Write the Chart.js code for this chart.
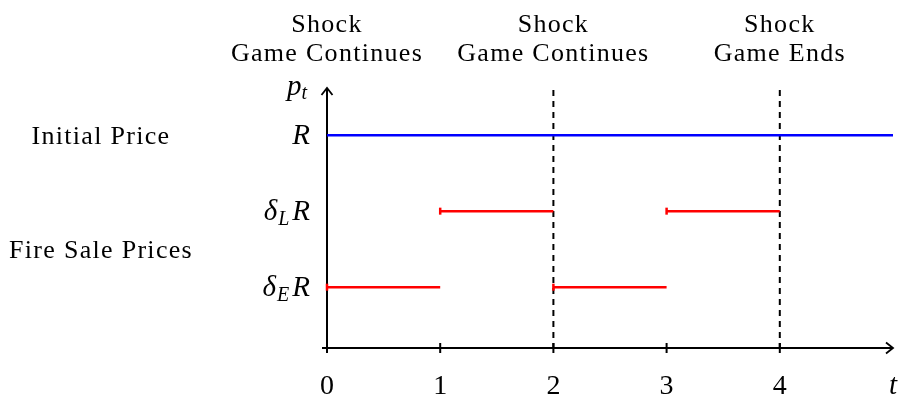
<!DOCTYPE html>
<html>
<head>
<meta charset="utf-8">
<script src="https://cdn.jsdelivr.net/npm/chart.js@4/dist/chart.umd.min.js"></script>
<style>
html,body{margin:0;padding:0;background:#fff;}
#wrap{width:899px;height:396px;position:relative;}
</style>
</head>
<body>
<div id="wrap"><canvas id="c"></canvas></div>
<script>
// ---- data ----
const levelR = 2.8;      // R
const levelDL = 1.8;     // delta_L R
const levelDE = 0.8;     // delta_E R
const initialX = [0, 5];
const initialY = [levelR, levelR];
const fireStarts = [0, 1, 2, 3];
const fireEnds = [1, 2, 3, 4];
const fireLevels = [levelDE, levelDL, levelDE, levelDL];
const shockTimes = [0, 2, 4];
const shockLine1 = ["Shock", "Shock", "Shock"];
const shockLine2 = ["Game Continues", "Game Continues", "Game Ends"];
const xTickValues = [0, 1, 2, 3, 4];
const xTickLabels = ["0", "1", "2", "3", "4"];
const yLevelValues = [levelR, levelDL, levelDE];
const yLevelLabels = [["R"], ["δ", "L", "R"], ["δ", "E", "R"]];
const groupLabels = ["Initial Price", "Fire Sale Prices"];
const groupYs = [levelR, (levelDL + levelDE) / 2];
const xMax = 5, yMax = 3.42;

const SERIF = '"Liberation Serif", "DejaVu Serif", serif';
const FS = 26;
const TFS = 28;
const MFS = 29;
const SFS = 20;
const LS = '1.3px';

const datasets = [{
  data: initialX.map((x, i) => ({x, y: initialY[i]})),
  borderColor: '#0000ff', borderWidth: 2.5, pointRadius: 0, showLine: true, clip: false
}];
fireStarts.forEach((s, i) => {
  datasets.push({
    data: [{x: s, y: fireLevels[i]}, {x: fireEnds[i], y: fireLevels[i]}],
    borderColor: '#ff0000', borderWidth: 2.5, showLine: true, clip: false,
    pointStyle: 'line', rotation: 90, pointRadius: [3.5, 0], pointHoverRadius: 0,
    pointBorderColor: '#ff0000', pointBorderWidth: 2.5
  });
});

function mathText(ctx, parts, xRight, baseline) {
  const segs = [];
  if (parts.length === 1) segs.push({t: parts[0], sub: false, gap: 0});
  else {
    segs.push({t: parts[0], sub: false, gap: 1});
    segs.push({t: parts[1], sub: true, gap: 3});
    segs.push({t: parts[2], sub: false, gap: 0});
  }
  let w = 0;
  segs.forEach(s => {
    ctx.font = 'italic ' + (s.sub ? SFS : MFS) + 'px ' + SERIF;
    s.w = ctx.measureText(s.t).width + s.gap;
    w += s.w;
  });
  let x = xRight - w;
  ctx.textAlign = 'left';
  segs.forEach(s => {
    ctx.font = 'italic ' + (s.sub ? SFS : MFS) + 'px ' + SERIF;
    ctx.fillText(s.t, x, baseline + (s.sub ? 5 : 0));
    x += s.w;
  });
}

const decor = {
  id: 'decor',
  beforeDatasetsDraw(chart) {
    const {ctx, scales: {x, y}} = chart;
    const x0 = x.getPixelForValue(0), y0 = y.getPixelForValue(0);
    const yTop = y.getPixelForValue(yMax), xEnd = x.getPixelForValue(xMax);
    ctx.save();
    ctx.strokeStyle = '#000';
    ctx.lineWidth = 2;
    ctx.setLineDash([6, 5]);
    shockTimes.forEach(t => {
      if (t === 0) return;
      const px = x.getPixelForValue(t);
      ctx.beginPath(); ctx.moveTo(px, yTop + 2); ctx.lineTo(px, y0 + 5); ctx.stroke();
    });
    ctx.setLineDash([]);
    ctx.beginPath(); ctx.moveTo(x0, y0 + 5); ctx.lineTo(x0, yTop); ctx.stroke();
    ctx.beginPath(); ctx.moveTo(x0 - 5, y0); ctx.lineTo(xEnd, y0); ctx.stroke();
    ctx.lineWidth = 1.8;
    ctx.beginPath(); ctx.moveTo(x0 - 5.5, yTop + 7); ctx.lineTo(x0, yTop); ctx.lineTo(x0 + 5.5, yTop + 7); ctx.stroke();
    ctx.beginPath(); ctx.moveTo(xEnd - 7, y0 - 5.5); ctx.lineTo(xEnd, y0); ctx.lineTo(xEnd - 7, y0 + 5.5); ctx.stroke();
    ctx.lineWidth = 2;
    xTickValues.forEach(v => {
      if (v === 0) return;
      const px = x.getPixelForValue(v);
      ctx.beginPath(); ctx.moveTo(px, y0 - 5); ctx.lineTo(px, y0 + 5); ctx.stroke();
    });
    ctx.restore();
  },
  afterDatasetsDraw(chart) {
    const {ctx, scales: {x, y}} = chart;
    const x0 = x.getPixelForValue(0), y0 = y.getPixelForValue(0);
    const yTop = y.getPixelForValue(yMax), xEnd = x.getPixelForValue(xMax);
    ctx.save();
    ctx.fillStyle = '#000';
    ctx.textBaseline = 'alphabetic';
    ctx.font = TFS + 'px ' + SERIF;
    ctx.textAlign = 'center';
    xTickValues.forEach((v, i) => ctx.fillText(xTickLabels[i], x.getPixelForValue(v), y0 + 46));
    ctx.font = 'italic ' + MFS + 'px ' + SERIF;
    ctx.fillText('t', xEnd, y0 + 46);
    ctx.font = FS + 'px ' + SERIF;
    ctx.letterSpacing = LS;
    shockTimes.forEach((t, i) => {
      const px = x.getPixelForValue(t);
      ctx.fillText(shockLine1[i], px, 32);
      ctx.fillText(shockLine2[i], px, 61);
    });
    groupLabels.forEach((g, i) => ctx.fillText(g, 101, y.getPixelForValue(groupYs[i]) + 9));
    ctx.letterSpacing = '0px';
    yLevelValues.forEach((v, i) => mathText(ctx, yLevelLabels[i], x0 - 17, y.getPixelForValue(v) + 9));
    ctx.font = 'italic ' + MFS + 'px ' + SERIF;
    const pw = ctx.measureText('p').width;
    ctx.font = 'italic ' + SFS + 'px ' + SERIF;
    const tw = ctx.measureText('t').width;
    ctx.textAlign = 'left';
    ctx.font = 'italic ' + MFS + 'px ' + SERIF;
    ctx.fillText('p', x0 - 20 - pw - tw, yTop + 7);
    ctx.font = 'italic ' + SFS + 'px ' + SERIF;
    ctx.fillText('t', x0 - 20 - tw, yTop + 11);
    ctx.restore();
  }
};

new Chart(document.getElementById('c'), {
  type: 'scatter',
  data: {datasets},
  options: {
    responsive: true, maintainAspectRatio: false, animation: false,
    events: [],
    layout: {padding: {left: 327, right: 6, top: 88, bottom: 48}},
    plugins: {legend: {display: false}, tooltip: {enabled: false}},
    scales: {
      x: {type: 'linear', min: 0, max: xMax, display: false},
      y: {type: 'linear', min: 0, max: yMax, display: false}
    }
  },
  plugins: [decor]
});
</script>
</body>
</html>
